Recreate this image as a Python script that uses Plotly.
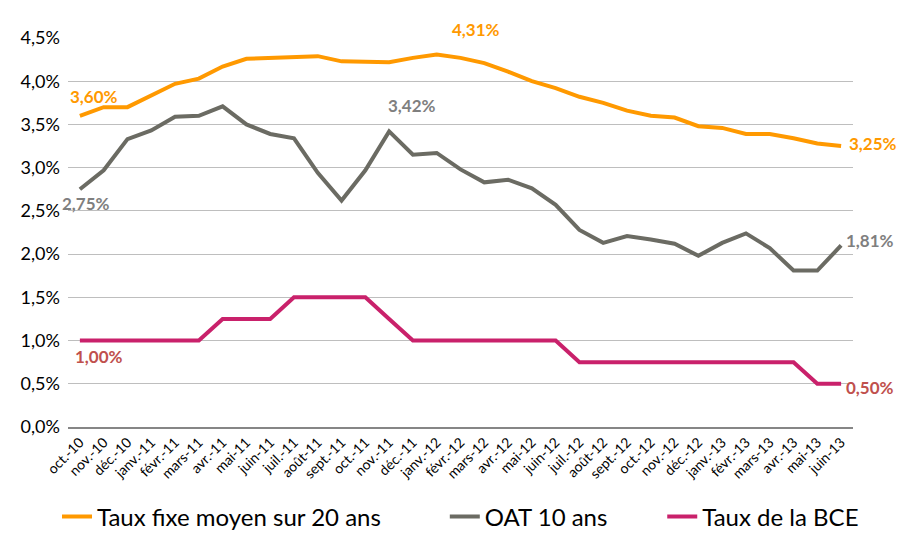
import plotly.graph_objects as go

months = ["oct.-10","nov.-10","déc.-10","janv.-11","févr.-11","mars-11","avr.-11","mai-11","juin-11",
          "juil.-11","août-11","sept.-11","oct.-11","nov.-11","déc.-11","janv.-12","févr.-12","mars-12",
          "avr.-12","mai-12","juin-12","juil.-12","août-12","sept.-12","oct.-12","nov.-12","déc.-12",
          "janv.-13","févr.-13","mars-13","avr.-13","mai-13","juin-13"]

taux_fixe = [3.60, 3.70, 3.70, 3.84, 3.97, 4.03, 4.17, 4.26, 4.27, 4.29, 4.29, 4.23, 4.23, 4.22, 4.27,
             4.31, 4.27, 4.21, 4.11, 4.00, 3.92, 3.82, 3.75, 3.66, 3.60, 3.58, 3.48, 3.46, 3.39, 3.39,
             3.34, 3.28, 3.25]
oat = [2.75, 2.97, 3.33, 3.43, 3.59, 3.60, 3.71, 3.50, 3.39, 3.34, 2.94, 2.62, 2.97, 3.42, 3.15,
       3.17, 2.98, 2.83, 2.86, 2.76, 2.57, 2.28, 2.13, 2.21, 2.17, 2.12, 1.98, 2.13, 2.24, 2.07,
       1.81, 1.81, 2.10]
bce = [1.00, 1.00, 1.00, 1.00, 1.00, 1.00, 1.25, 1.25, 1.25, 1.50, 1.50, 1.50, 1.50, 1.25, 1.00,
       1.00, 1.00, 1.00, 1.00, 1.00, 1.00, 0.75, 0.75, 0.75, 0.75, 0.75, 0.75, 0.75, 0.75, 0.75,
       0.75, 0.50, 0.50]

series_names = ["Taux fixe moyen sur 20 ans", "OAT 10 ans", "Taux de la BCE"]
line_colors = ["#FF9900", "#6B6B63", "#C9216B"]
label_colors = ["#FF9900", "#7F7F7F", "#C0504D"]
legend_ids = ["legend", "legend2", "legend3"]
legend_x = [-0.014, 0.480, 0.757]

FONT = "Lato"

fig = go.Figure()
for name, ys, c, lg in zip(series_names, [taux_fixe, oat, bce], line_colors, legend_ids):
    fig.add_trace(go.Scatter(x=months, y=ys, name=name, mode="lines", legend=lg,
                             line=dict(color=c, width=4)))

# data labels: (series values, index, color, text, xshift, yshift)
labels = [
    (taux_fixe, 0, label_colors[0], "3,60%", 14, 19),
    (taux_fixe, 15, label_colors[0], "4,31%", 39, 25),
    (taux_fixe, 32, label_colors[0], "3,25%", 32, 3),
    (oat, 0, label_colors[1], "2,75%", 6, -14),
    (oat, 13, label_colors[1], "3,42%", 23, 26),
    (oat, 32, label_colors[1], "1,81%", 29, 5),
    (bce, 0, label_colors[2], "1,00%", 19, -16),
    (bce, 32, label_colors[2], "0,50%", 29, -4),
]
for ys, i, c, t, xs, yshift in labels:
    fig.add_annotation(x=months[i], y=ys[i], text="<b>" + t + "</b>", showarrow=False,
                       xshift=xs, yshift=yshift, font=dict(family=FONT, size=17, color=c))

leg_common = dict(orientation="h", y=-0.231, yanchor="middle", xanchor="left",
                  font=dict(family=FONT, size=24, color="#000000"), itemwidth=30,
                  bgcolor="rgba(0,0,0,0)", borderwidth=0)

fig.update_layout(
    width=911, height=546,
    margin=dict(l=60, r=66, t=30, b=127),
    plot_bgcolor="white", paper_bgcolor="white",
    separators=", ",
    font=dict(family=FONT, color="#000000"),
    showlegend=True,
    legend=dict(x=legend_x[0], **leg_common),
    legend2=dict(x=legend_x[1], **leg_common),
    legend3=dict(x=legend_x[2], **leg_common),
)
fig.update_xaxes(type="category", range=[-0.5, 32.5], tickangle=-45, automargin=False,
                 tickfont=dict(family=FONT, size=14, color="#000000"),
                 showgrid=False, showline=True, linecolor="#868686", linewidth=1.5,
                 ticks="", zeroline=False)
fig.update_yaxes(range=[0, 4.5], dtick=0.5, tickformat=".1f", ticksuffix="%", automargin=False,
                 tickfont=dict(family=FONT, size=18, color="#000000"),
                 showgrid=True, gridcolor="#BEBEBE", gridwidth=1, zeroline=False,
                 showline=False, ticks="", ticklabelstandoff=7)

fig.write_html("out.html")
